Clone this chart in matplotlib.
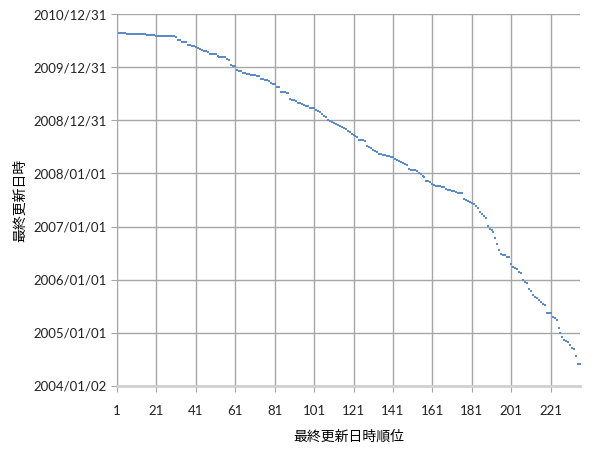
import matplotlib
matplotlib.use('Agg')
import matplotlib.pyplot as plt
import numpy as np

# last-update date of each item (decimal years), ranked newest first
update_years = [
    2010.64, 2010.64, 2010.64, 2010.64, 2010.64, 2010.63, 2010.63, 2010.63, 2010.63, 2010.63,
    2010.62, 2010.62, 2010.62, 2010.62, 2010.62, 2010.60, 2010.60, 2010.60, 2010.60, 2010.60,
    2010.59, 2010.59, 2010.59, 2010.59, 2010.59, 2010.58, 2010.58, 2010.58, 2010.58, 2010.58,
    2010.56, 2010.52, 2010.51, 2010.48, 2010.48, 2010.48, 2010.42, 2010.41, 2010.40, 2010.39,
    2010.38, 2010.37, 2010.34, 2010.32, 2010.31, 2010.30, 2010.29, 2010.25, 2010.25, 2010.25,
    2010.25, 2010.21, 2010.20, 2010.20, 2010.19, 2010.19, 2010.15, 2010.13, 2010.04, 2010.03,
    2010.02, 2009.95, 2009.93, 2009.92, 2009.90, 2009.89, 2009.88, 2009.87, 2009.86, 2009.85,
    2009.85, 2009.84, 2009.84, 2009.77, 2009.77, 2009.76, 2009.75, 2009.74, 2009.71, 2009.69,
    2009.68, 2009.63, 2009.62, 2009.54, 2009.53, 2009.53, 2009.52, 2009.51, 2009.41, 2009.39,
    2009.38, 2009.36, 2009.33, 2009.32, 2009.31, 2009.29, 2009.27, 2009.26, 2009.24, 2009.23,
    2009.23, 2009.19, 2009.18, 2009.16, 2009.12, 2009.09, 2009.07, 2009.01, 2008.99, 2008.97,
    2008.95, 2008.93, 2008.91, 2008.89, 2008.87, 2008.85, 2008.83, 2008.80, 2008.78, 2008.75,
    2008.73, 2008.70, 2008.68, 2008.63, 2008.62, 2008.62, 2008.61, 2008.52, 2008.50, 2008.47,
    2008.45, 2008.43, 2008.41, 2008.37, 2008.36, 2008.35, 2008.34, 2008.33, 2008.32, 2008.31,
    2008.30, 2008.27, 2008.25, 2008.23, 2008.21, 2008.19, 2008.18, 2008.16, 2008.08, 2008.07,
    2008.06, 2008.06, 2008.05, 2008.01, 2007.99, 2007.96, 2007.94, 2007.86, 2007.85, 2007.83,
    2007.81, 2007.78, 2007.77, 2007.76, 2007.76, 2007.75, 2007.74, 2007.70, 2007.69, 2007.68,
    2007.67, 2007.66, 2007.65, 2007.64, 2007.64, 2007.63, 2007.52, 2007.50, 2007.48, 2007.46,
    2007.44, 2007.42, 2007.39, 2007.34, 2007.27, 2007.23, 2007.20, 2007.17, 2007.01, 2006.95,
    2006.93, 2006.90, 2006.78, 2006.67, 2006.55, 2006.48, 2006.47, 2006.46, 2006.43, 2006.42,
    2006.30, 2006.23, 2006.22, 2006.21, 2006.15, 2006.12, 2005.99, 2005.96, 2005.93, 2005.82,
    2005.79, 2005.71, 2005.68, 2005.65, 2005.61, 2005.58, 2005.55, 2005.52, 2005.38, 2005.38,
    2005.38, 2005.30, 2005.27, 2005.24, 2005.09, 2004.99, 2004.93, 2004.87, 2004.85, 2004.83,
    2004.77, 2004.72, 2004.70, 2004.56, 2004.41, 2004.41,
]

y_ticks = [2004, 2005, 2006, 2007, 2008, 2009, 2010, 2011]
y_labels = ['2004/01/02', '2005/01/01', '2006/01/01', '2007/01/01',
            '2008/01/01', '2008/12/31', '2009/12/31', '2010/12/31']
x_ticks = [1, 21, 41, 61, 81, 101, 121, 141, 161, 181, 201, 221]

ranks = np.arange(1, len(update_years) + 1)

fig = plt.figure(figsize=(6.0, 4.54), dpi=100)
ax = fig.add_axes([0.195, 0.15, 0.772, 0.819])

ax.plot(ranks, update_years, linestyle='none', marker='s', markersize=1.9,
        markeredgewidth=0, color='#5b8bc9')

ax.set_xlim(1, len(update_years))
ax.set_ylim(2004, 2011)
ax.set_xticks(x_ticks)
ax.set_yticks(y_ticks)
ax.set_yticklabels(y_labels)

ax.grid(True, color='#a6a6a6', linewidth=1.0)
ax.set_axisbelow(True)
for side in ['top', 'right']:
    ax.spines[side].set_visible(False)
ax.spines['left'].set_color('#a6a6a6')
ax.spines['bottom'].set_color('#d0d0d0')
ax.spines['bottom'].set_linewidth(2.0)
ax.tick_params(axis='both', length=4, color='#a6a6a6', labelsize=9.5,
               labelcolor='#222222')
ax.tick_params(axis='x', pad=10)
for lab in ax.get_xticklabels() + ax.get_yticklabels():
    lab.set_fontfamily('Lato')

jp = ['Noto Sans CJK JP', 'DejaVu Sans']
ax.set_xlabel('最終更新日時順位', family=jp, fontsize=10, labelpad=9)
ax.set_ylabel('最終更新日時', family=jp, fontsize=10, labelpad=4)

fig.savefig('out.png', dpi=100)
